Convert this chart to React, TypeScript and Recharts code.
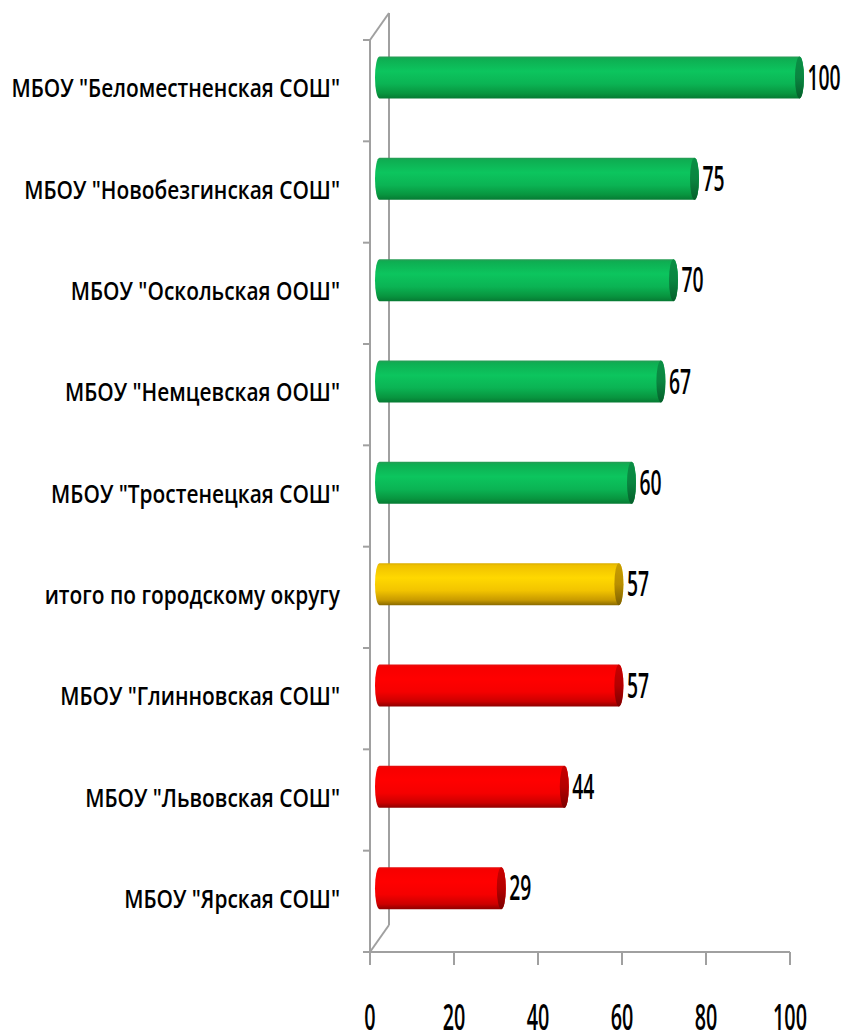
import React from 'react';
import * as R from 'recharts';

const { BarChart, Bar, XAxis, YAxis, LabelList } = R as any;

const categories = [
  'МБОУ "Беломестненская СОШ"',
  'МБОУ "Новобезгинская СОШ"',
  'МБОУ "Оскольская ООШ"',
  'МБОУ "Немцевская ООШ"',
  'МБОУ "Тростенецкая СОШ"',
  'итого по городскому округу',
  'МБОУ "Глинновская СОШ"',
  'МБОУ "Львовская СОШ"',
  'МБОУ "Ярская СОШ"',
];
const values = [100, 75, 70, 67, 60, 57, 57, 44, 29];
const colorKeys = ['green', 'green', 'green', 'green', 'green', 'yellow', 'red', 'red', 'red'];
const xTicks = [0, 20, 40, 60, 80, 100];

const data = categories.map((name, i) => ({ name, value: values[i], color: colorKeys[i] }));

const DEPTH_X = 19;
const DEPTH_Y = 27;
const AXIS = '#a0a0a0';
const FONT = "'Open Sans', 'Noto Sans', sans-serif";

const capColors: Record<string, string> = {
  green: 'url(#cap-green)',
  yellow: 'url(#cap-yellow)',
  red: 'url(#cap-red)',
};

function Cylinder(props: any) {
  const { x, y, width, height, index } = props;
  if (width == null || height == null) return null;
  const key = colorKeys[index];
  const x0 = x + DEPTH_X / 2;
  const yy = y - DEPTH_Y / 2;
  const x1 = x0 + width;
  const ry = height / 2;
  const rx = 4.5;
  const d = `M${x0},${yy} L${x1},${yy} A${rx},${ry} 0 0 1 ${x1},${yy + height} L${x0},${yy + height} A${rx},${ry} 0 0 1 ${x0},${yy} Z`;
  return (
    <g>
      <path d={d} fill={`url(#body-${key})`} />
      <ellipse cx={x1} cy={yy + ry} rx={rx} ry={ry} fill={capColors[key]} />
    </g>
  );
}

function ValueLabel(props: any) {
  const { x, y, width, height, value } = props;
  const lx = x + width + DEPTH_X / 2 + 8;
  const ly = y - DEPTH_Y / 2 + height / 2 + 12;
  return (
    <text
      transform={`translate(${lx},${ly}) scale(0.92,1.62)`}
      fontFamily={FONT}
      fontSize={21}
      fontWeight={600}
      fill="#000"
    >
      {value}
    </text>
  );
}

function CatTick(props: any) {
  const { y, payload } = props;
  return (
    <text
      transform={`translate(340,${y + 6.5}) scale(0.95,1.14)`}
      textAnchor="end"
      fontFamily={FONT}
      fontSize={22}
      fontWeight={600}
      fill="#000"
    >
      {payload.value}
    </text>
  );
}

function NumTick(props: any) {
  const { x, y, payload } = props;
  return (
    <text
      transform={`translate(${x},${y + 63}) scale(0.92,1.7)`}
      textAnchor="middle"
      fontFamily={FONT}
      fontSize={21.5}
      fontWeight={600}
      fill="#000"
    >
      {payload.value}
    </text>
  );
}

function Frame() {
  const hook = (R as any).usePlotArea;
  const plot = hook ? hook() : null;
  if (!plot) return null;
  const { x, y, width, height } = plot;
  const n = categories.length;
  const band = height / n;
  const bottom = y + height;
  const lines: any[] = [];
  for (let i = 0; i <= n; i++) {
    const ty = y + i * band;
    lines.push(<line key={'t' + i} x1={x - 7} y1={ty} x2={x} y2={ty} stroke={AXIS} strokeWidth={2} />);
  }
  return (
    <g>
      {lines}
      <line x1={x} y1={y} x2={x} y2={bottom} stroke={AXIS} strokeWidth={2} />
      <line x1={x} y1={y} x2={x + DEPTH_X} y2={y - DEPTH_Y} stroke={AXIS} strokeWidth={2} />
      <line x1={x + DEPTH_X} y1={y - DEPTH_Y} x2={x + DEPTH_X} y2={bottom - DEPTH_Y} stroke={AXIS} strokeWidth={2} />
      <line x1={x + DEPTH_X} y1={bottom - DEPTH_Y} x2={x} y2={bottom} stroke={AXIS} strokeWidth={2} />
    </g>
  );
}

function Grad({ id, stops }: { id: string; stops: [number, string][] }) {
  return (
    <linearGradient id={id} x1="0" y1="0" x2="0" y2="1">
      {stops.map(([o, c], i) => (
        <stop key={i} offset={o} stopColor={c} />
      ))}
    </linearGradient>
  );
}

export default function App() {
  return (
    <div style={{ position: 'absolute', left: 0, top: 0, background: '#fff' }}>
      <BarChart
        width={852}
        height={1035}
        data={data}
        layout="vertical"
        margin={{ top: 40, right: 62, bottom: 0, left: 0 }}
        barCategoryGap={0}
      >
        <defs>
          <Grad id="body-green" stops={[[0, '#2a9a55'], [0.06, '#0eae52'], [0.35, '#0cc55e'], [0.65, '#0bb454'], [0.88, '#08953f'], [1, '#067a33']]} />
          <Grad id="body-yellow" stops={[[0, '#d9ad00'], [0.06, '#f0c200'], [0.35, '#ffd800'], [0.65, '#f2c400'], [0.88, '#c89a00'], [1, '#8a6a00']]} />
          <Grad id="body-red" stops={[[0, '#e21010'], [0.06, '#f70000'], [0.35, '#ff0000'], [0.65, '#f50000'], [0.88, '#cc0000'], [1, '#8e0000']]} />
          <Grad id="cap-green" stops={[[0, '#0a8f45'], [0.5, '#0a8540'], [1, '#055e2a']]} />
          <Grad id="cap-yellow" stops={[[0, '#c89e00'], [0.5, '#b98f00'], [1, '#7d6000']]} />
          <Grad id="cap-red" stops={[[0, '#c80000'], [0.5, '#b40000'], [1, '#7c0000']]} />
        </defs>
        <Frame />
        <XAxis
          type="number"
          domain={[0, 100]}
          ticks={xTicks}
          interval={0}
          height={83}
          axisLine={{ stroke: AXIS, strokeWidth: 2 }}
          tickLine={{ stroke: AXIS, strokeWidth: 2 }}
          tickSize={13}
          tickMargin={2}
          tick={<NumTick />}
        />
        <YAxis
          type="category"
          dataKey="name"
          width={370}
          axisLine={false}
          tickLine={false}
          tick={<CatTick />}
          interval={0}
        />
        <Bar dataKey="value" barSize={42} shape={<Cylinder />} isAnimationActive={false}>
          <LabelList dataKey="value" content={<ValueLabel />} />
        </Bar>
      </BarChart>
    </div>
  );
}
